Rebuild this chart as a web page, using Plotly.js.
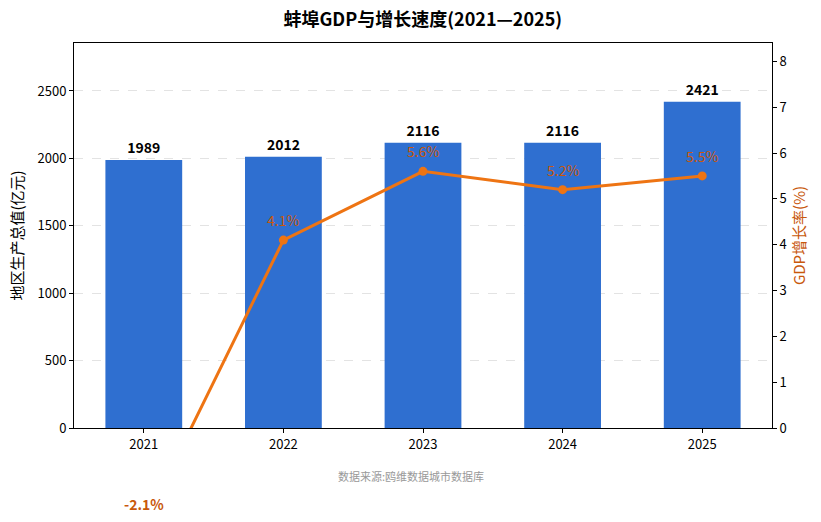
<!DOCTYPE html>
<html>
<head>
<meta charset="utf-8">
<script src="https://cdn.plot.ly/plotly-3.0.1.min.js"></script>
<style>
  body { margin: 0; background: white; }
  #chart { width: 821px; height: 522px; }
</style>
</head>
<body>
<div id="chart"></div>
<script>
// 蚌埠 GDP data
var years = ['2021', '2022', '2023', '2024', '2025'];
var gdp = [1989, 2012, 2116, 2116, 2421];
var growth = [-2.1, 4.1, 5.6, 5.2, 5.5];

var fontFam = '"Noto Sans CJK SC", "Noto Sans", sans-serif';
var barColor = '#2F6FD0';
var lineColor = '#EE7413';
var labelColor = '#C8580C';
var y2Max = 8.4;

var data = [
  {
    type: 'bar',
    x: years,
    y: gdp,
    width: 0.55,
    marker: { color: barColor },
    text: gdp.map(String),
    textposition: 'outside',
    textfont: { size: 14, color: '#000', weight: 'bold', family: fontFam },
    cliponaxis: false,
    hoverinfo: 'skip'
  },
  {
    type: 'scatter',
    mode: 'lines+markers',
    x: years,
    y: growth,
    yaxis: 'y2',
    line: { color: lineColor, width: 3 },
    marker: { color: lineColor, size: 9 },
    cliponaxis: true
  }
];

// growth labels as annotations so the one below the axis still shows
// (x is the category index on the category axis)
var growthNotes = growth.map(function (v, i) {
  return {
    text: v < 0 ? '<b>' + v.toFixed(1) + '%</b>' : v.toFixed(1) + '%',
    xref: 'x', yref: 'paper',
    x: i, y: v / y2Max,
    yshift: 20,
    xanchor: 'center', yanchor: 'middle',
    showarrow: false,
    font: { size: 14, color: labelColor }
  };
});

var layout = {
  width: 821,
  height: 522,
  margin: { l: 74, r: 49, t: 43, b: 94 },
  paper_bgcolor: 'white',
  plot_bgcolor: 'white',
  showlegend: false,
  font: { family: fontFam, size: 13, color: '#000' },
  title: {
    text: '<b>蚌埠GDP与增长速度(2021—2025)</b>',
    font: { size: 18, color: '#000', family: fontFam },
    x: 0.515,
    xanchor: 'center',
    y: 0.962,
    yanchor: 'middle'
  },
  xaxis: {
    type: 'category',
    range: [-0.5, 4.5],
    showline: true,
    linecolor: '#000',
    linewidth: 1,
    mirror: true,
    ticks: 'outside',
    ticklen: 4,
    tickcolor: '#000',
    showgrid: false,
    tickfont: { size: 13 }
  },
  yaxis: {
    range: [0, 2856],
    dtick: 500,
    showline: true,
    linecolor: '#000',
    linewidth: 1,
    ticks: 'outside',
    ticklen: 4,
    tickcolor: '#000',
    showgrid: true,
    gridcolor: '#E3E3E3',
    griddash: 'dash',
    zeroline: false,
    tickfont: { size: 13 },
    title: { text: '地区生产总值(亿元)', font: { size: 15, color: '#000' }, standoff: 10 }
  },
  yaxis2: {
    overlaying: 'y',
    side: 'right',
    range: [0, y2Max],
    dtick: 1,
    showline: true,
    linecolor: '#000',
    linewidth: 1,
    ticks: 'outside',
    ticklen: 4,
    tickcolor: '#000',
    showgrid: false,
    zeroline: false,
    tickfont: { size: 13 },
    title: { text: 'GDP增长率(%)', font: { size: 15, color: labelColor }, standoff: 8 }
  },
  annotations: growthNotes.concat([
    {
      text: '数据来源:鸥维数据城市数据库',
      xref: 'paper', yref: 'paper',
      x: 0.483, y: -0.125,
      xanchor: 'center', yanchor: 'middle',
      showarrow: false,
      font: { size: 11, color: '#999999' }
    }
  ])
};

Plotly.newPlot('chart', data, layout, { displayModeBar: false, staticPlot: true });
</script>
</body>
</html>
